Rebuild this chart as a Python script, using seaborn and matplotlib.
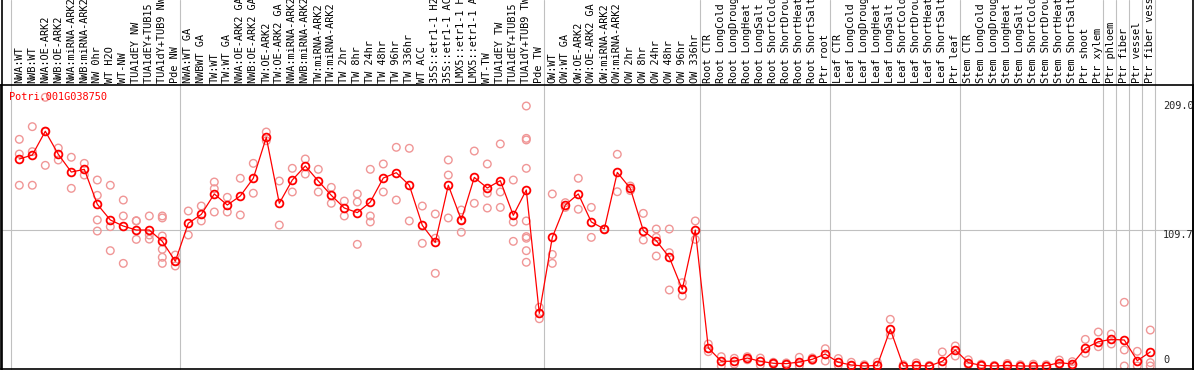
import numpy as np
import pandas as pd
import matplotlib
matplotlib.use("Agg")
import matplotlib.pyplot as plt
import matplotlib.transforms as mtransforms
from matplotlib.lines import Line2D
import seaborn as sns

# ---------------- data ----------------
labels_nw = ["NWA:WT", "NWB:WT", "NWA:OE-ARK2", "NWB:OE-ARK2", "NWA:miRNA-ARK2", "NWB:miRNA-ARK2",
             "NW 0hr", "WT H2O", "WT-NW", "TUA1dEY NW", "TUA1dEY+TUB15 NW", "TUA1dY+TUB9 NW", "Pde NW"]
labels_tw = ["NWA:WT GA", "NWBWT GA", "TW:WT", "TW:WT GA", "NWA:OE-ARK2 GA", "NWB:OE-ARK2 GA",
             "TW:OE-ARK2", "TW:OE-ARK2 GA", "NWA:miRNA-ARK2 GA", "NWB:miRNA-ARK2 GA", "TW:miRNA-ARK2",
             "TW:miRNA-ARK2 GA", "TW 2hr", "TW 8hr", "TW 24hr", "TW 48hr", "TW 96hr", "TW 336hr", "WT ACC",
             "35S::etr1-1 H2O", "35S::etr1-1 ACC", "LMX5::etr1-1 H2O", "LMX5::etr1-1 ACC", "WT-TW",
             "TUA1dEY TW", "TUA1dEY+TUB15 TW", "TUA1dY+TUB9 TW", "Pde TW"]
labels_ow = ["OW:WT", "OW:WT GA", "OW:OE-ARK2", "OW:OE-ARK2 GA", "OW:miRNA-ARK2", "OW:miRNA-ARK2 GA",
             "OW 2hr", "OW 8hr", "OW 24hr", "OW 48hr", "OW 96hr", "OW 336hr"]
stress = ["CTR", "LongCold", "LongDrought", "LongHeat", "LongSalt", "ShortCold", "ShortDrought",
          "ShortHeat", "ShortSalt"]
labels_root = ["Root " + s for s in stress] + ["Ptr root"]
labels_leaf = ["Leaf " + s for s in stress] + ["Ptr leaf"]
labels_stem = ["Stem " + s for s in stress] + ["Ptr shoot"]
labels_ptr = ["Ptr xylem", "Ptr phloem", "Ptr fiber", "Ptr vessel", "Ptr fiber vessel"]

means_nw = [166.4, 169.6, 188.7, 170.2, 155.9, 158.1, 130.0, 117.4, 112.5, 109.3, 109.3, 100.2, 84.2]
means_tw = [114.7, 121.9, 138.3, 129.4, 136.7, 150.9, 183.8, 130.8, 149.5, 160.8, 148.7, 137.2, 127.0,
            123.3, 131.8, 151.1, 155.4, 145.3, 113.1, 99.4, 145.3, 117.4, 151.6, 143.1, 149.0, 121.1,
            141.5, 42.3]
means_ow = [103.4, 129.4, 138.3, 115.8, 110.1, 155.6, 142.8, 108.8, 100.7, 87.4, 61.6, 109.3]
means_root = [14.5, 3.8, 3.8, 6.4, 3.8, 2.2, 1.9, 3.2, 5.4, 9.6]
means_leaf = [3.0, 0.8, 0.0, 0.5, 29.5, 0.0, 0.5, 0.0, 3.8, 12.9]
means_stem = [2.7, 0.5, 0.0, 0.5, 0.0, 0.0, 0.2, 2.7, 1.6, 14.2]
means_ptr = [19.5, 21.4, 20.9, 4.3, 11.3]

reps_nw = [[182.2, 170.4, 145.3], [192.4, 172.3, 145.3], [216.0, 188.7, 161.3], [175.2, 165.6],
           [167.8, 142.8], [162.9, 153.5], [149.5, 137.2, 117.4, 108.5], [145.3, 112.0, 92.7],
           [133.4, 120.6, 82.5], [116.8, 116.6, 101.8], [120.6, 105.3, 102.0],
           [120.6, 119.0, 104.5, 93.8, 87.4, 82.5], [89.2, 84.2, 80.4]]
reps_tw = [[124.6, 105.3], [128.6, 116.6], [147.9, 142.5, 123.8], [135.6, 123.8], [150.9, 121.4],
           [162.9, 138.9], [188.1, 181.1], [148.7, 113.3], [158.9, 139.9], [166.4, 154.3],
           [158.1, 139.9], [143.6, 130.8], [132.6, 120.6], [138.3, 131.8, 97.8],
           [158.1, 120.6, 115.8], [162.4, 139.9], [175.8, 133.4], [175.0, 116.6], [128.6, 98.6],
           [122.2, 102.7, 74.5], [165.6, 153.5, 119.0], [125.4, 117.4, 107.5], [172.8, 130.8],
           [162.4, 138.9, 127.0], [178.5, 139.9, 127.5], [149.5, 115.8, 100.2],
           [209.0, 183.0, 181.7, 158.9, 116.6, 104.0, 102.7, 92.7, 83.4], [47.2, 38.0]]
reps_ow = [[138.3, 89.7, 82.5], [131.3, 127.5], [150.9, 126.0], [127.5, 103.4], [110.1],
           [170.2, 140.1], [144.7, 141.0], [122.7, 101.3], [110.1, 103.4, 88.4],
           [110.1, 91.1, 61.1], [67.0, 56.3], [116.6, 101.8]]
reps_root = [[17.7, 11.5], [7.5, 0.0], [6.2, 1.5], [7.5, 5.0], [6.4, 0.8], [3.0, 1.5], [2.5, 1.0],
             [7.0, 0.0], [6.5, 4.5], [13.9, 4.0]]
reps_leaf = [[6.0, 0.5], [3.0, 0.0], [1.0, 0.0], [3.0, 0.0], [37.5, 24.9], [1.0, 0.0], [2.5, 0.0],
             [0.5, 0.0], [11.3, 0.0], [16.1, 8.0]]
reps_stem = [[5.0, 1.0], [1.5, 0.0], [0.5, 0.0], [2.0, 0.0], [1.0, 0.0], [1.5, 0.0], [1.0, 0.0],
             [4.8, 1.0], [3.5, 0.0], [21.4, 10.2]]
reps_ptr = [[27.3, 15.5], [25.7, 17.7], [51.2, 12.9, 0.0], [11.8, 0.0], [28.9, 2.7, 0.0]]

gene_id = "Potri.001G038750"
ytick_values = [209.0, 109.7, 0]
ytick_labels = ["209.0", "109.7", "0"]

labels = labels_nw + labels_tw + labels_ow + labels_root + labels_leaf + labels_stem + labels_ptr
means = means_nw + means_tw + means_ow + means_root + means_leaf + means_stem + means_ptr
reps = reps_nw + reps_tw + reps_ow + reps_root + reps_leaf + reps_stem + reps_ptr

# group boundaries: separator after these column indices
sep_after = [-1, 12, 40, 52, 62, 72, 83, 84, 85, 86, 87]

df_mean = pd.DataFrame({"x": np.arange(len(means)), "value": means})
df_rep = pd.DataFrame([(i, v) for i, rr in enumerate(reps) for v in rr], columns=["x", "value"])

# ---------------- plot ----------------
sns.set_style("white")
plt.rcParams["font.family"] = ["DejaVu Sans Mono", "DejaVu Sans"]

W, H = 1194, 370
fig = plt.figure(figsize=(W / 100, H / 100), dpi=100)
ax_bottom_px, ax_top_px = 369, 85
ax = fig.add_axes([1 / W, (H - ax_bottom_px) / H, 1192 / W, (ax_bottom_px - ax_top_px) / H])

px_per_col = 13.0
x0 = -(19.3 - 1) / px_per_col
ax.set_xlim(x0, x0 + 1192 / px_per_col)
ppu = 1.244
ax.set_ylim((366 - 369) / ppu, (366 - 85) / ppu)

grid_c = "#c0c0c0"
ax.axhline(109.7, color=grid_c, lw=0.8, zorder=0)
ext = (ax_bottom_px - 0) / (ax_bottom_px - ax_top_px)
for s in sep_after:
    xs = s + 0.38 if s >= 0 else -0.64
    ax.axvline(xs, ymin=0, ymax=ext, color=grid_c, lw=0.8, clip_on=False, zorder=0)

sns.scatterplot(data=df_rep, x="x", y="value", ax=ax, marker="o", s=30,
                facecolors="none", edgecolor="#f09696", linewidth=1.0, zorder=2, legend=False)
sns.lineplot(data=df_mean, x="x", y="value", ax=ax, estimator=None, sort=False,
             color="red", lw=0.9, marker="o", markersize=5.6, markerfacecolor="none",
             markeredgecolor="red", markeredgewidth=1.3, zorder=3, legend=False)

ax.set_xticks([])
ax.set_yticks([])
ax.set_xlabel("")
ax.set_ylabel("")
for sp in ax.spines.values():
    sp.set_color("black")
    sp.set_linewidth(1.2)

# column labels (rotated, clipped by figure edge as in the original)
trans = mtransforms.blended_transform_factory(ax.transData, ax.transAxes)
lab_y = (ax_bottom_px - 83) / (ax_bottom_px - ax_top_px)
for i, lab in enumerate(labels):
    ax.text(i, lab_y, lab, rotation=90, ha="center", va="bottom", fontsize=7.4,
            color="black", transform=trans, clip_on=False)

# gene id
ax.text(8 / 1192, (ax_bottom_px - 96.5) / (ax_bottom_px - ax_top_px), gene_id, color="red",
        fontsize=7.4, ha="left", va="center", transform=ax.transAxes)

# y value labels on the right
trans_y = mtransforms.blended_transform_factory(ax.transAxes, ax.transData)
xlab = (1163 - 1) / 1192
ax.text(xlab, ytick_values[0], ytick_labels[0], ha="left", va="center", fontsize=7.4,
        transform=trans_y, clip_on=False)
ax.text(xlab, ytick_values[1] - 0.6, ytick_labels[1], ha="left", va="top", fontsize=7.4,
        transform=trans_y)
ax.text(xlab, ytick_values[2] + 0.6, ytick_labels[2], ha="left", va="bottom", fontsize=7.4,
        transform=trans_y)

# frame lines through the label area
fig.add_artist(Line2D([1.5 / W, 1.5 / W], [0, 1], color="black", lw=1.2, transform=fig.transFigure))
fig.add_artist(Line2D([1192.5 / W, 1192.5 / W], [0, 1], color="black", lw=1.2,
                      transform=fig.transFigure))

fig.savefig("out.png", dpi=100)
